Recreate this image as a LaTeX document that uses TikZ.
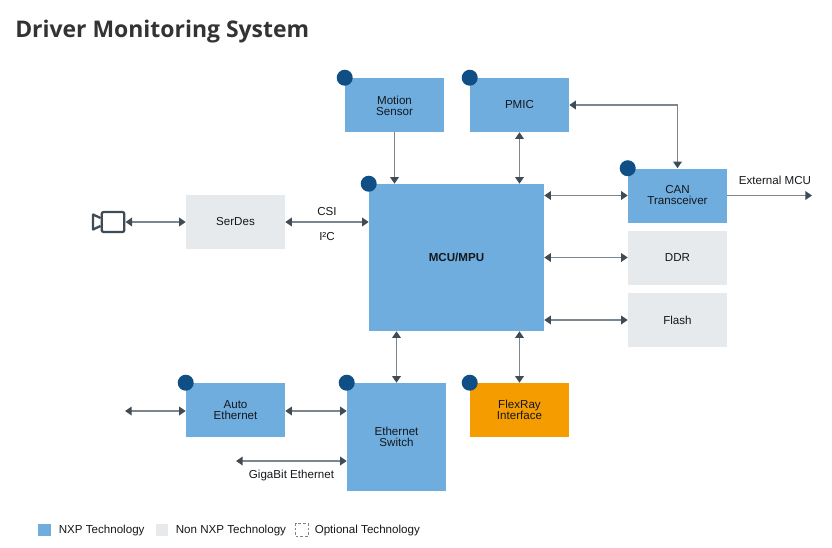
\documentclass[tikz,border=0pt]{standalone}
\usepackage{fontspec}
\setmainfont{Liberation Sans}
\newfontfamily\titlefont{Open Sans}
\usetikzlibrary{arrows.meta,positioning,calc}
\definecolor{nxpblue}{HTML}{6FADDF}
\definecolor{nonnxp}{HTML}{E6EAEC}
\definecolor{flexor}{HTML}{F59C00}
\definecolor{dotblue}{HTML}{104F85}
\definecolor{linegray}{HTML}{7C868F}
\definecolor{tipdark}{HTML}{3F4B55}
\definecolor{txtdark}{HTML}{14181C}
\tikzset{
  x=0.75pt,y=-0.75pt,
  blockbase/.style={anchor=center,inner sep=0pt,font=\fontsize{8.7}{8.25}\selectfont,text=txtdark,align=center,minimum width=74.25pt},
  nxpbox/.style={blockbase,fill=nxpblue,minimum height=40.5pt},
  nonbox/.style={blockbase,fill=nonnxp,minimum height=40.5pt},
  orbox/.style={blockbase,fill=flexor,minimum height=40.5pt},
  conn/.style={draw=linegray,line width=1.1pt},
  both/.style={conn,{Triangle[length=5pt,width=6.5pt,color=tipdark]}-{Triangle[length=5pt,width=6.5pt,color=tipdark]}},
  one/.style={conn,-{Triangle[length=5pt,width=6.5pt,color=tipdark]}},
  lbl/.style={inner sep=0pt,font=\fontsize{8.7}{10}\selectfont,text=txtdark},
  badge/.style={circle,fill=dotblue,minimum size=12pt,inner sep=0pt},
}
\begin{document}
\begin{tikzpicture}
\useasboundingbox (0,0) rectangle (832,547);
\node[anchor=west,inner sep=0pt,font=\titlefont\fontsize{17.2}{20}\selectfont\bfseries,text=black!80] (title) at (15,31.5) {Driver Monitoring System};

\node[nxpbox] (motion) at (394.5,105) {\rule{0pt}{7.9pt}Motion\\Sensor};
\node[nxpbox] (pmic) at (519.5,105) {PMIC};
\node[nxpbox,minimum width=131.25pt,minimum height=110.25pt,font=\fontsize{8.7}{10}\selectfont\bfseries] (mcu) at (456.5,257.5) {MCU/MPU};
\node[nxpbox] (can) at (677.5,195.5) {CAN\\Transceiver};
\node[nonbox] (ddr) at (677.5,257.5) {DDR};
\node[nonbox] (flash) at (677.5,320) {Flash};
\node[nonbox] (serdes) at (235.5,222) {SerDes};
\node[nxpbox] (auto) at (235.5,410) {Auto\\Ethernet};
\node[nxpbox,minimum height=81pt] (switch) at (396.5,437) {Ethernet\\Switch};
\node[orbox] (flex) at (519.5,410) {FlexRay\\Interface};

\node[badge] (bm) at (motion.north west) {};
\node[badge] (bp) at (pmic.north west) {};
\node[badge] (bmcu) at (mcu.north west) {};
\node[badge] (bc) at (can.north west) {};
\node[badge] (ba) at (auto.north west) {};
\node[badge] (bs) at (switch.north west) {};
\node[badge] (bf) at (flex.north west) {};

% camera
\node[draw=tipdark,line width=1.7pt,rounded corners=1.5pt,minimum width=17pt,minimum height=15pt,inner sep=0pt] (cam) at (113,222) {};
\draw[tipdark,line width=1.7pt,line join=round] (cam.west |- 0,218) -- (93,214.5) -- (93,229.5) -- (cam.west |- 0,226);

\coordinate (autoleft) at (125,411);
\coordinate (gigaleft) at (236,461);
\coordinate (extright) at (812,195.5);

\draw[both] (cam.east) -- (serdes.west);
\draw[both] (serdes.east) -- (serdes.east -| mcu.west);
\draw[one] (motion.south) -- (motion.south |- mcu.north);
\draw[both] (pmic.south) -- (pmic.south |- mcu.north);
\draw[both] (pmic.east) -| (can.north);
\draw[both] (can.west -| mcu.east) -- (can.west);
\draw[one] (can.east) -- (extright);
\draw[both] (ddr.west -| mcu.east) -- (ddr.west);
\draw[both] (flash.west -| mcu.east) -- (flash.west);
\draw[both] (switch.north |- mcu.south) -- (switch.north);
\draw[both] (flex.north |- mcu.south) -- (flex.north);
\draw[both] (autoleft) -- (autoleft -| auto.west);
\draw[both] (auto.east |- autoleft) -- (autoleft -| switch.west);
\draw[both] (gigaleft) -- (gigaleft -| switch.west);

\node[lbl] (csi) at (327,211.5) {CSI};
\node[lbl] (i2c) at (327,236) {I²C};
\node[lbl] (ext) at (775,180) {External MCU};
\node[lbl] (giga) at (291.5,475) {GigaBit Ethernet};

% legend
\node[fill=nxpblue,minimum size=9.5pt,inner sep=0pt] (l1) at (44.5,530) {};
\node[lbl,anchor=west] (l1t) at (58.5,530) {NXP Technology};
\node[fill=nonnxp,minimum size=9.5pt,inner sep=0pt] (l2) at (162,530) {};
\node[lbl,anchor=west] (l2t) at (175.5,530) {Non NXP Technology};
\node[draw=linegray,dashed,dash pattern=on 2pt off 1.5pt,line width=0.6pt,minimum size=9.5pt,inner sep=0pt] (l3) at (302,530) {};
\node[lbl,anchor=west] (l3t) at (314.5,530) {Optional Technology};
\end{tikzpicture}
\end{document}
